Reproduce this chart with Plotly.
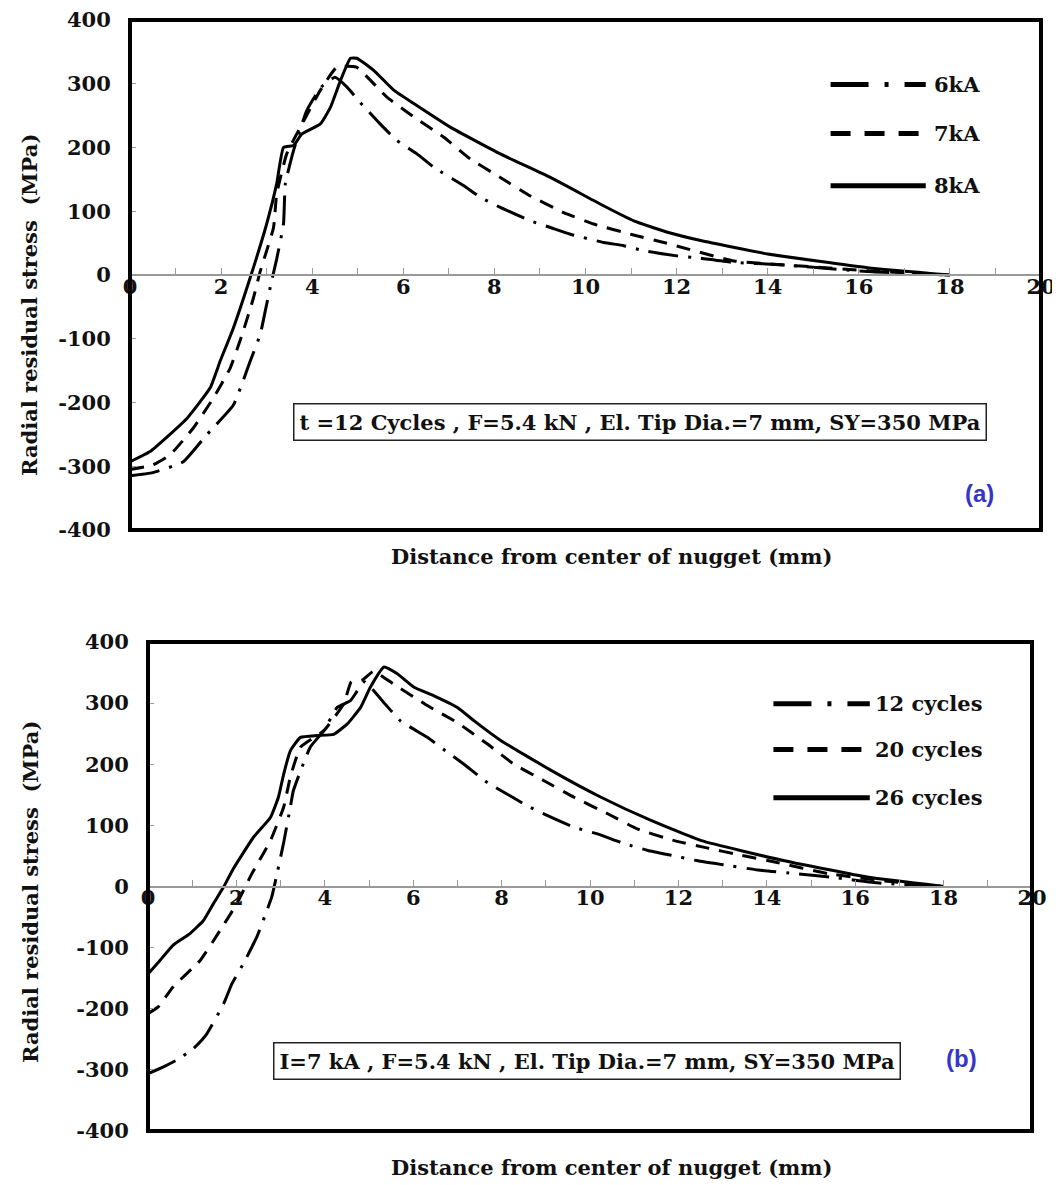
import plotly.graph_objects as go

# page is 1060x1185; the html body has an 8px margin at top/left
OFF = 8
W, H = 1060 - OFF, 1185 - OFF

# ---------------- Data: panel (a) ----------------
x_a_6kA = [0, 0.5, 1.17, 1.68, 2.27, 2.64, 2.86, 3.0, 3.11, 3.22, 3.37, 3.41, 3.59, 3.88, 4.2, 4.5, 4.76,
           5.05, 5.49, 5.86, 6.30, 6.67, 7.33, 7.69, 8.13, 8.79, 9.23, 9.67, 10.4, 10.84, 11.28, 12.01,
           12.45, 13.2, 14.07, 15.0, 16.3, 18.0]
y_a_6kA = [-315, -310, -293, -251, -204, -135, -93, -46, -9, 25, 80, 143, 195, 258, 295, 310, 295,
           271, 237, 211, 190, 169, 140, 122, 106, 85, 74.5, 64, 51, 46, 38, 30,
           27, 20, 17, 12, 5, 0]

x_a_7kA = [0, 0.5, 0.88, 1.39, 1.83, 2.2, 2.45, 2.71, 2.86, 3.15, 3.22, 3.44, 3.74, 4.18, 4.54, 4.97,
           5.64, 6.23, 6.89, 7.47, 8.13, 8.79, 9.52, 10.18, 10.99, 11.72, 13.26, 14.73, 16.3, 18.0]
y_a_7kA = [-305, -298, -282, -240, -193, -146, -96, -36, 6, 74, 127, 190, 232, 290, 326, 326,
           279, 248, 216, 182, 153, 124, 98, 80, 64, 51, 22, 14, 6, 0]

x_a_8kA = [0, 0.44, 1.25, 1.76, 1.98, 2.27, 2.64, 3.0, 3.22, 3.37, 3.59, 3.77, 4.18, 4.40, 4.62, 4.84,
           4.98, 5.35, 5.79, 6.23, 7.03, 8.13, 9.23, 10.33, 11.06, 11.8, 12.53, 14.0, 16.19, 18.0]
y_a_8kA = [-293, -277, -225, -177, -135, -83, -4, 80, 143, 200, 203, 221, 237, 263, 305, 340,
           340, 321, 290, 269, 232, 190, 153, 111, 85, 67, 54, 33, 11.5, 0]

# ---------------- Data: panel (b) ----------------
x_b_12 = [0, 0.35, 0.65, 1.03, 1.33, 1.71, 1.9, 2.16, 2.46, 2.65, 2.8, 2.92, 3.07, 3.22, 3.29, 3.67,
          3.98, 4.28, 4.58, 4.9, 5.37, 5.71, 6.32, 6.73, 7.15, 7.68, 8.13, 8.58, 9.19, 9.64, 10.17,
          10.78, 11.31, 11.84, 12.44, 12.97, 13.8, 14.67, 15.5, 16.5, 18.0]
y_b_12 = [-306, -295, -284, -265, -241, -192, -159, -126, -83, -47, -17, 21, 72, 130, 157, 228,
          255, 293, 304, 335, 298, 271, 244, 222, 200, 170, 151, 132, 111, 97, 86,
          70, 59, 51, 42, 36, 27, 21, 15, 6, 0]

x_b_20 = [0, 0.23, 0.57, 1.18, 1.63, 2.01, 2.35, 2.77, 3.07, 3.22, 3.45, 3.98, 4.43, 4.6, 4.85, 5.1,
          5.56, 6.32, 7.0, 7.68, 8.28, 8.96, 9.64, 10.4, 11.08, 11.91, 12.59, 13.42, 14.18, 15.39,
          16.8, 18.0]
y_b_20 = [-208, -197, -164, -121, -72, -28, 21, 75, 130, 179, 228, 255, 299, 335, 338, 352,
          331, 296, 268, 233, 200, 173, 146, 119, 94, 75, 64, 51, 40, 21,
          8, 0]

x_b_26 = [0, 0.27, 0.57, 0.95, 1.25, 1.48, 1.71, 1.93, 2.39, 2.77, 2.95, 3.07, 3.22, 3.45, 3.83, 4.2,
          4.51, 4.81, 5.03, 5.34, 5.64, 6.02, 6.47, 7.0, 7.38, 7.98, 9.12, 10.25, 11.38, 12.52,
          14.4, 16.3, 18.0]
y_b_26 = [-143, -121, -96, -77, -56, -28, -1, 29, 81, 113, 146, 184, 222, 244, 247, 249,
          266, 293, 326, 359, 348, 326, 312, 293, 271, 239, 190, 146, 108, 75,
          42, 15, 0]

x_ticks = [0, 2, 4, 6, 8, 10, 12, 14, 16, 18, 20]
y_ticks = [-400, -300, -200, -100, 0, 100, 200, 300, 400]

names_a = ["6kA", "7kA", "8kA"]
names_b = ["12 cycles", "20 cycles", "26 cycles"]

# ---------------- Styles ----------------
FONT = "DejaVu Serif"
DASHDOT = "30px,10px,3px,10px"
DASHED = "14px,10px"
dashes = [DASHDOT, DASHED, "solid"]
LEG_DASHES = ["38px,16px,4px,16px", "20px,14px", "solid"]


def px(xp, yp):
    """page pixel -> paper fraction"""
    return (xp - OFF) / W, 1 - (yp - OFF) / H


# panel geometry (page pixels)
A_L, A_R, A_T, A_B = 130, 1041, 20, 530
B_L, B_R, B_T, B_B = 148, 1032, 642, 1131

fig = go.Figure()

series_a = [(x_a_6kA, y_a_6kA), (x_a_7kA, y_a_7kA), (x_a_8kA, y_a_8kA)]
series_b = [(x_b_12, y_b_12), (x_b_20, y_b_20), (x_b_26, y_b_26)]

for (xs, ys), d, n in zip(series_a, dashes, names_a):
    fig.add_trace(go.Scatter(x=xs, y=ys, mode="lines", name=n, xaxis="x", yaxis="y",
                             line=dict(color="black", width=3, dash=d, shape="spline", smoothing=0.4),
                             showlegend=False))
for (xs, ys), d, n in zip(series_b, dashes, names_b):
    fig.add_trace(go.Scatter(x=xs, y=ys, mode="lines", name=n, xaxis="x2", yaxis="y2",
                             line=dict(color="black", width=3, dash=d, shape="spline", smoothing=0.4),
                             showlegend=False))

TICKFONT = dict(family=FONT, size=21, color="#111", weight="bold")


def axes(L, R, T, B):
    x0, y1 = px(L, T)
    x1, y0 = px(R, B)
    xa = dict(domain=[x0, x1], range=[0, 20], anchor="free", position=(y0 + y1) / 2,
              tickvals=x_ticks, ticktext=[str(v) for v in x_ticks],
              ticks="inside", ticklen=6, tickcolor="#999", tickwidth=1,
              minor=dict(dtick=1, ticks="inside", ticklen=6, tickcolor="#999", tickwidth=1),
              showline=True, linecolor="#999", linewidth=1.5, showgrid=False, zeroline=False,
              tickfont=TICKFONT, ticklabelstandoff=-7, ticklabeloverflow="allow",
              automargin=False, fixedrange=True)
    ya = dict(domain=[y0, y1], range=[-400, 400], tickvals=y_ticks,
              ticktext=[str(v) for v in y_ticks],
              ticks="inside", ticklen=6, tickcolor="#999", tickwidth=1,
              showline=True, linecolor="#999", linewidth=1, showgrid=False, zeroline=False,
              tickfont=TICKFONT, ticklabelstandoff=14, ticklabeloverflow="allow",
              automargin=False, fixedrange=True)
    return xa, ya


xa1, ya1 = axes(A_L, A_R, A_T, A_B)
xa2, ya2 = axes(B_L, B_R, B_T, B_B)
ya1["anchor"] = "x"
ya2["anchor"] = "x2"

shapes = []
for xr, yr in (("x", "y"), ("x2", "y2")):
    shapes.append(dict(type="rect", xref=f"{xr} domain", yref=f"{yr} domain", x0=0, x1=1, y0=0, y1=1,
                       line=dict(color="black", width=4), layer="above"))

annotations = []

# legends drawn in data coordinates
leg_a = dict(xref="x", yref="y", x0=15.38, x1=17.47, xt=17.6, ys=[299, 222, 140])
leg_b = dict(xref="x2", yref="y2", x0=14.15, x1=16.33, xt=16.4, ys=[299, 224, 145])
for leg, names in ((leg_a, names_a), (leg_b, names_b)):
    for yv, d, n in zip(leg["ys"], LEG_DASHES, names):
        shapes.append(dict(type="line", xref=leg["xref"], yref=leg["yref"], x0=leg["x0"], x1=leg["x1"],
                           y0=yv, y1=yv, line=dict(color="black", width=5, dash=d)))
        annotations.append(dict(xref=leg["xref"], yref=leg["yref"], x=leg["xt"], y=yv, text=f"<b>{n}</b>",
                                showarrow=False, xanchor="left", yanchor="middle",
                                font=dict(family=FONT, size=21, color="#111")))

# condition boxes
annotations.append(dict(xref="x", yref="y", x=11.19, y=-231,
                        text="<b>t =12 Cycles , F=5.4 kN , El. Tip Dia.=7 mm, SY=350 MPa</b>",
                        showarrow=False, xanchor="center", yanchor="middle",
                        font=dict(family=FONT, size=21, color="#111"),
                        bordercolor="#222", borderwidth=1.5, borderpad=5, bgcolor="white"))
annotations.append(dict(xref="x2", yref="y2", x=9.93, y=-286,
                        text="<b>I=7 kA , F=5.4 kN , El. Tip Dia.=7 mm, SY=350 MPa</b>",
                        showarrow=False, xanchor="center", yanchor="middle",
                        font=dict(family=FONT, size=21, color="#111"),
                        bordercolor="#222", borderwidth=1.5, borderpad=5, bgcolor="white"))

# panel labels
annotations.append(dict(xref="x", yref="y", x=18.64, y=-343, text="<b>(a)</b>", showarrow=False,
                        xanchor="center", yanchor="middle",
                        font=dict(family="Liberation Sans", size=24, color="#3535c8")))
annotations.append(dict(xref="x2", yref="y2", x=18.41, y=-281, text="<b>(b)</b>", showarrow=False,
                        xanchor="center", yanchor="middle",
                        font=dict(family="Liberation Sans", size=24, color="#3535c8")))

# axis titles
for (xp, yp) in ((611, 556), (611, 1167)):
    ax, ay = px(xp, yp)
    annotations.append(dict(xref="paper", yref="paper", x=ax, y=ay, xanchor="center", yanchor="middle",
                            text="<b>Distance from center of nugget (mm)</b>", showarrow=False,
                            font=dict(family=FONT, size=21, color="#111")))
for (xp, yp) in ((30, 305), (30, 892)):
    ax, ay = px(xp, yp)
    annotations.append(dict(xref="paper", yref="paper", x=ax, y=ay, textangle=-90,
                            xanchor="center", yanchor="middle",
                            text="<b>Radial residual stress  (MPa)</b>", showarrow=False,
                            font=dict(family=FONT, size=21, color="#111")))

fig.update_layout(
    template="none",
    width=W, height=H, autosize=False,
    margin=dict(l=0, r=0, t=0, b=0, pad=0),
    paper_bgcolor="white", plot_bgcolor="white",
    xaxis=xa1, yaxis=ya1, xaxis2=xa2, yaxis2=ya2,
    shapes=shapes, annotations=annotations,
    font=dict(family=FONT, color="#111"),
    showlegend=False,
)

fig.write_html("out.html")
